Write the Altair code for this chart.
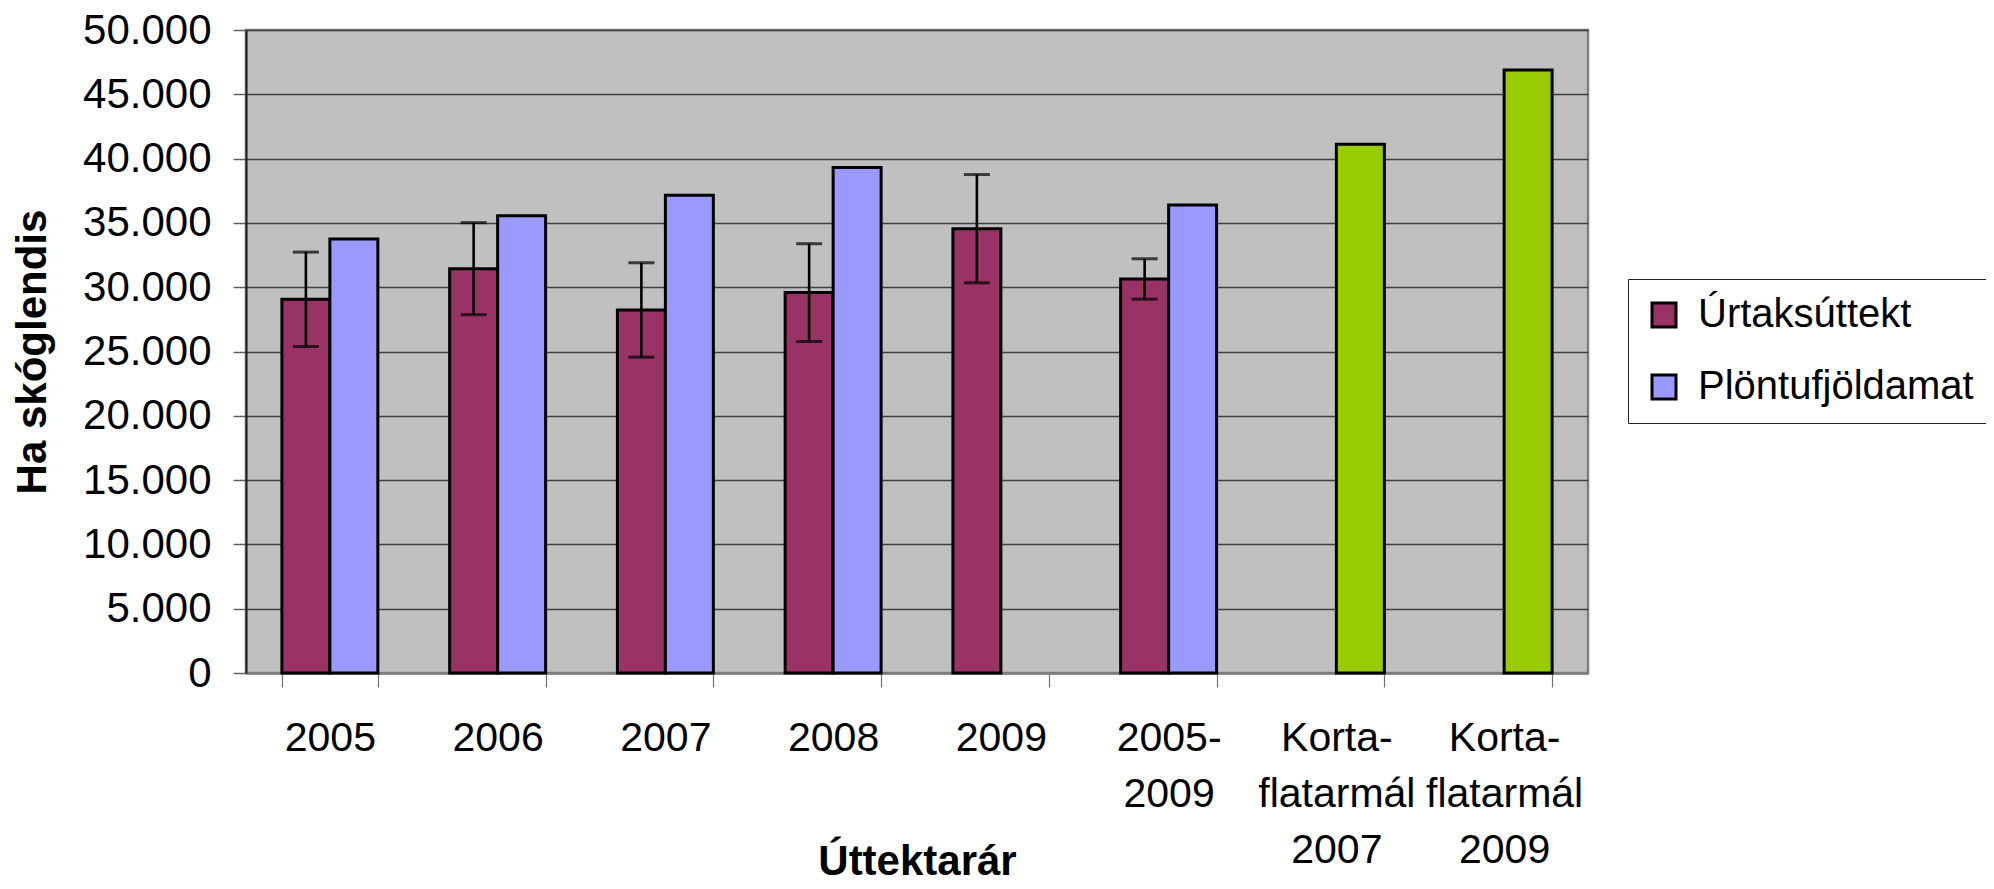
import altair as alt
import pandas as pd

# ---- data ----
x_labels = ["2005", "2006", "2007", "2008", "2009", "2005-\n2009",
            "Korta-\nflatarmál\n2007", "Korta-\nflatarmál\n2009"]
series = ["Úrtaksúttekt", "Plöntufjöldamat"]
urtak = [29060, 31440, 28230, 29580, 34550, 30640, None, None]
urtak_err = [3670, 3580, 3670, 3800, 4210, 1570, None, None]
plontu = [33750, 35560, 37150, 39300, None, 36390, 41110, 46890]
plontu_key = ["Plöntufjöldamat"] * 6 + ["Korta", "Korta"]
color_domain = ["Úrtaksúttekt", "Plöntufjöldamat", "Korta"]
color_range = ["#993366", "#9999FF", "#99CC00"]
y_ticks = [0, 5000, 10000, 15000, 20000, 25000, 30000, 35000, 40000, 45000, 50000]

rows = []
for i, k in enumerate(x_labels):
    if urtak[i] is not None:
        rows.append({"kat": k, "rod": series[0], "litur": series[0], "verd": urtak[i]})
    if plontu[i] is not None:
        rows.append({"kat": k, "rod": series[1], "litur": plontu_key[i], "verd": plontu[i]})
df = pd.DataFrame(rows)

err_rows = []
for i, k in enumerate(x_labels):
    if urtak[i] is not None and urtak_err[i] is not None:
        err_rows.append({"kat": k, "rod": series[0],
                         "lo": urtak[i] - urtak_err[i], "hi": urtak[i] + urtak_err[i]})
edf = pd.DataFrame(err_rows)

FONT = "Liberation Sans"

x_axis = alt.Axis(
    title="Úttektarár",
    labelExpr="split(datum.label, '\\n')",
    tickBand="extent",
    grid=False,
    labelAngle=0,
    labelFontSize=41,
    labelLineHeight=56,
    labelBaseline="top",
    labelPadding=31,
    tickSize=14,
    tickColor="#707070",
    tickWidth=1.2,
    domainColor="#808080",
    domainWidth=2.5,
    titleFontSize=42,
    titleFontWeight="bold",
    titleX=671,
    titleY=201,
    titleBaseline="alphabetic",
    titleAlign="center",
)
x_enc = alt.X("kat:N", sort=x_labels,
              scale=alt.Scale(paddingInner=0.428, paddingOuter=0.214),
              axis=x_axis)
xoff = alt.XOffset("rod:N", scale=alt.Scale(domain=series, paddingInner=0, paddingOuter=0))

y_axis = alt.Axis(
    title="Ha skóglendis",
    values=y_ticks,
    labelExpr="replace(format(datum.value, ','), ',', '.')",
    tickSize=13,
    tickColor="#606060",
    tickWidth=1.5,
    labelPadding=22,
    labelFontSize=42,
    grid=True,
    gridColor="#404040",
    gridWidth=1.4,
    domainColor="#202020",
    domainWidth=2,
    titleFontSize=42,
    titleFontWeight="bold",
    titleAngle=-90,
    titleX=-214,
    titleY=321.5,
    titleAlign="center",
    titleBaseline="middle",
)

bars = alt.Chart(df).mark_bar(stroke="black", strokeWidth=3).encode(
    x=x_enc,
    xOffset=xoff,
    y=alt.Y("verd:Q", scale=alt.Scale(domain=[0, 50000], nice=False), axis=y_axis),
    color=alt.Color("litur:N",
                    scale=alt.Scale(domain=color_domain, range=color_range),
                    legend=alt.Legend(
                        title=None,
                        values=series,
                        orient="none",
                        legendX=1382,
                        legendY=249,
                        fillColor="white",
                        strokeColor="#202020",
                        padding=16,
                        symbolType="square",
                        symbolSize=576,
                        symbolStrokeColor="black",
                        symbolStrokeWidth=3,
                        labelFontSize=40,
                        labelFont=FONT,
                        labelOffset=14,
                        labelLimit=600,
                        rowPadding=32,
                        labelExpr="datum.label == 'Úrtaksúttekt' ? '\u00a0Úrtaksúttekt' : datum.label",
                    )),
)

rules = alt.Chart(edf).mark_rule(color="black", strokeWidth=2.6).encode(
    x=alt.X("kat:N", sort=x_labels), xOffset=xoff,
    y=alt.Y("lo:Q"), y2="hi:Q",
)
cap_lo = alt.Chart(edf).mark_tick(color="black", thickness=3, size=26).encode(
    x=alt.X("kat:N", sort=x_labels), xOffset=xoff, y=alt.Y("lo:Q"),
)
cap_hi = alt.Chart(edf).mark_tick(color="black", thickness=3, size=26).encode(
    x=alt.X("kat:N", sort=x_labels), xOffset=xoff, y=alt.Y("hi:Q"),
)

chart = alt.layer(bars, rules, cap_lo, cap_hi).properties(
    width=1342,
    height=643,
    autosize=alt.AutoSizeParams(type="none"),
    padding={"left": 238, "top": 22, "right": 398, "bottom": 203},
).configure(
    font=FONT,
).configure_view(
    fill="#C0C0C0",
    stroke="#808080",
    strokeWidth=2.5,
).configure_axis(
    labelFont=FONT,
    titleFont=FONT,
    labelColor="black",
    titleColor="black",
)

chart.save("out.html", embed_options={"renderer": "svg", "actions": False})
